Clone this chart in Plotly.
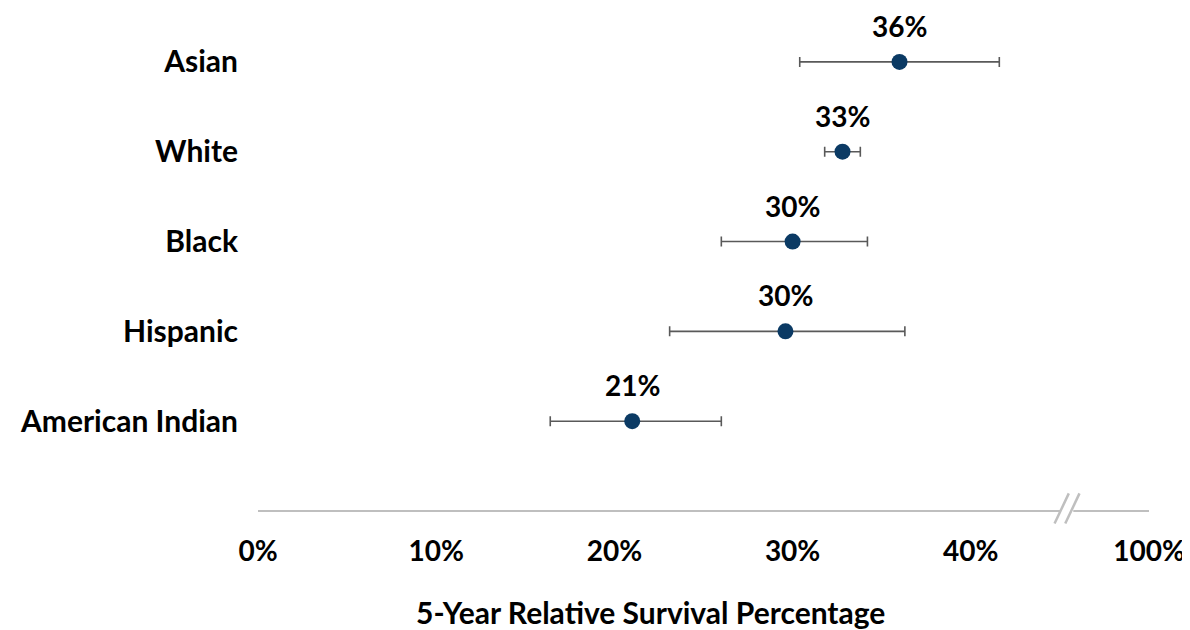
import plotly.graph_objects as go

groups = ["American Indian", "Hispanic", "Black", "White", "Asian"]
survival = [21.0, 29.6, 30.0, 32.8, 36.0]
ci_low = [16.4, 23.1, 26.0, 31.8, 30.4]
ci_high = [26.0, 36.3, 34.2, 33.8, 41.6]
labels = ["21%", "30%", "30%", "33%", "36%"]

tick_vals = [0, 10, 20, 30, 40, 50]
tick_text = ["0%", "10%", "20%", "30%", "40%", "100%"]
break_at = 45.4
x_end = 50

FONT = "Lato"
FS = 30
FS_NUM = 28
BLACK = "#000000"
NAVY = "#0b3a64"
GREY = "#595959"
AXIS = "#bfbfbf"

y_pos = list(range(len(groups)))

fig = go.Figure()
fig.add_trace(go.Scatter(
    x=survival, y=y_pos, mode="markers",
    marker=dict(size=16, color=NAVY),
    error_x=dict(type="data", symmetric=False,
                 array=[h - v for h, v in zip(ci_high, survival)],
                 arrayminus=[v - l for v, l in zip(survival, ci_low)],
                 color=GREY, thickness=1.6, width=5),
    showlegend=False, hoverinfo="skip",
))

for x, y, t in zip(survival, y_pos, labels):
    fig.add_annotation(x=x, y=y, text=t, showarrow=False, yshift=36,
                       font=dict(family=FONT, size=FS_NUM, color=BLACK, weight="bold"))

# axis line with break
fig.add_shape(type="line", xref="x", yref="paper", x0=0, x1=break_at - 0.35, y0=0, y1=0,
              line=dict(color=AXIS, width=2))
fig.add_shape(type="line", xref="x", yref="paper", x0=break_at + 0.35, x1=x_end, y0=0, y1=0,
              line=dict(color=AXIS, width=2))
for dx in (-0.3, 0.3):
    fig.add_shape(type="line", xref="x", yref="paper",
                  x0=break_at + dx - 0.4, x1=break_at + dx + 0.4, y0=-0.025, y1=0.035,
                  line=dict(color=AXIS, width=2.5))

fig.add_annotation(xref="paper", yref="paper", x=0.44, y=-0.201, text="5-Year Relative Survival Percentage",
                   showarrow=False, yanchor="middle",
                   font=dict(family=FONT, size=FS, color=BLACK, weight="bold"))

fig.update_layout(
    width=1190, height=622,
    margin=dict(l=250, r=49, t=0, b=119),
    paper_bgcolor="white", plot_bgcolor="white",
    xaxis=dict(range=[0, x_end], tickvals=tick_vals, ticktext=tick_text,
               showgrid=False, zeroline=False, showline=False,
               ticks="outside", ticklen=15, tickcolor="rgba(0,0,0,0)",
               tickfont=dict(family=FONT, size=FS_NUM, color=BLACK, weight="bold")),
    yaxis=dict(range=[-1, 4.60], tickvals=y_pos, ticktext=groups,
               showgrid=False, zeroline=False, showline=False,
               ticks="outside", ticklen=13, tickcolor="rgba(0,0,0,0)",
               tickfont=dict(family=FONT, size=FS, color=BLACK, weight="bold")),
)

fig.write_html("out.html")
